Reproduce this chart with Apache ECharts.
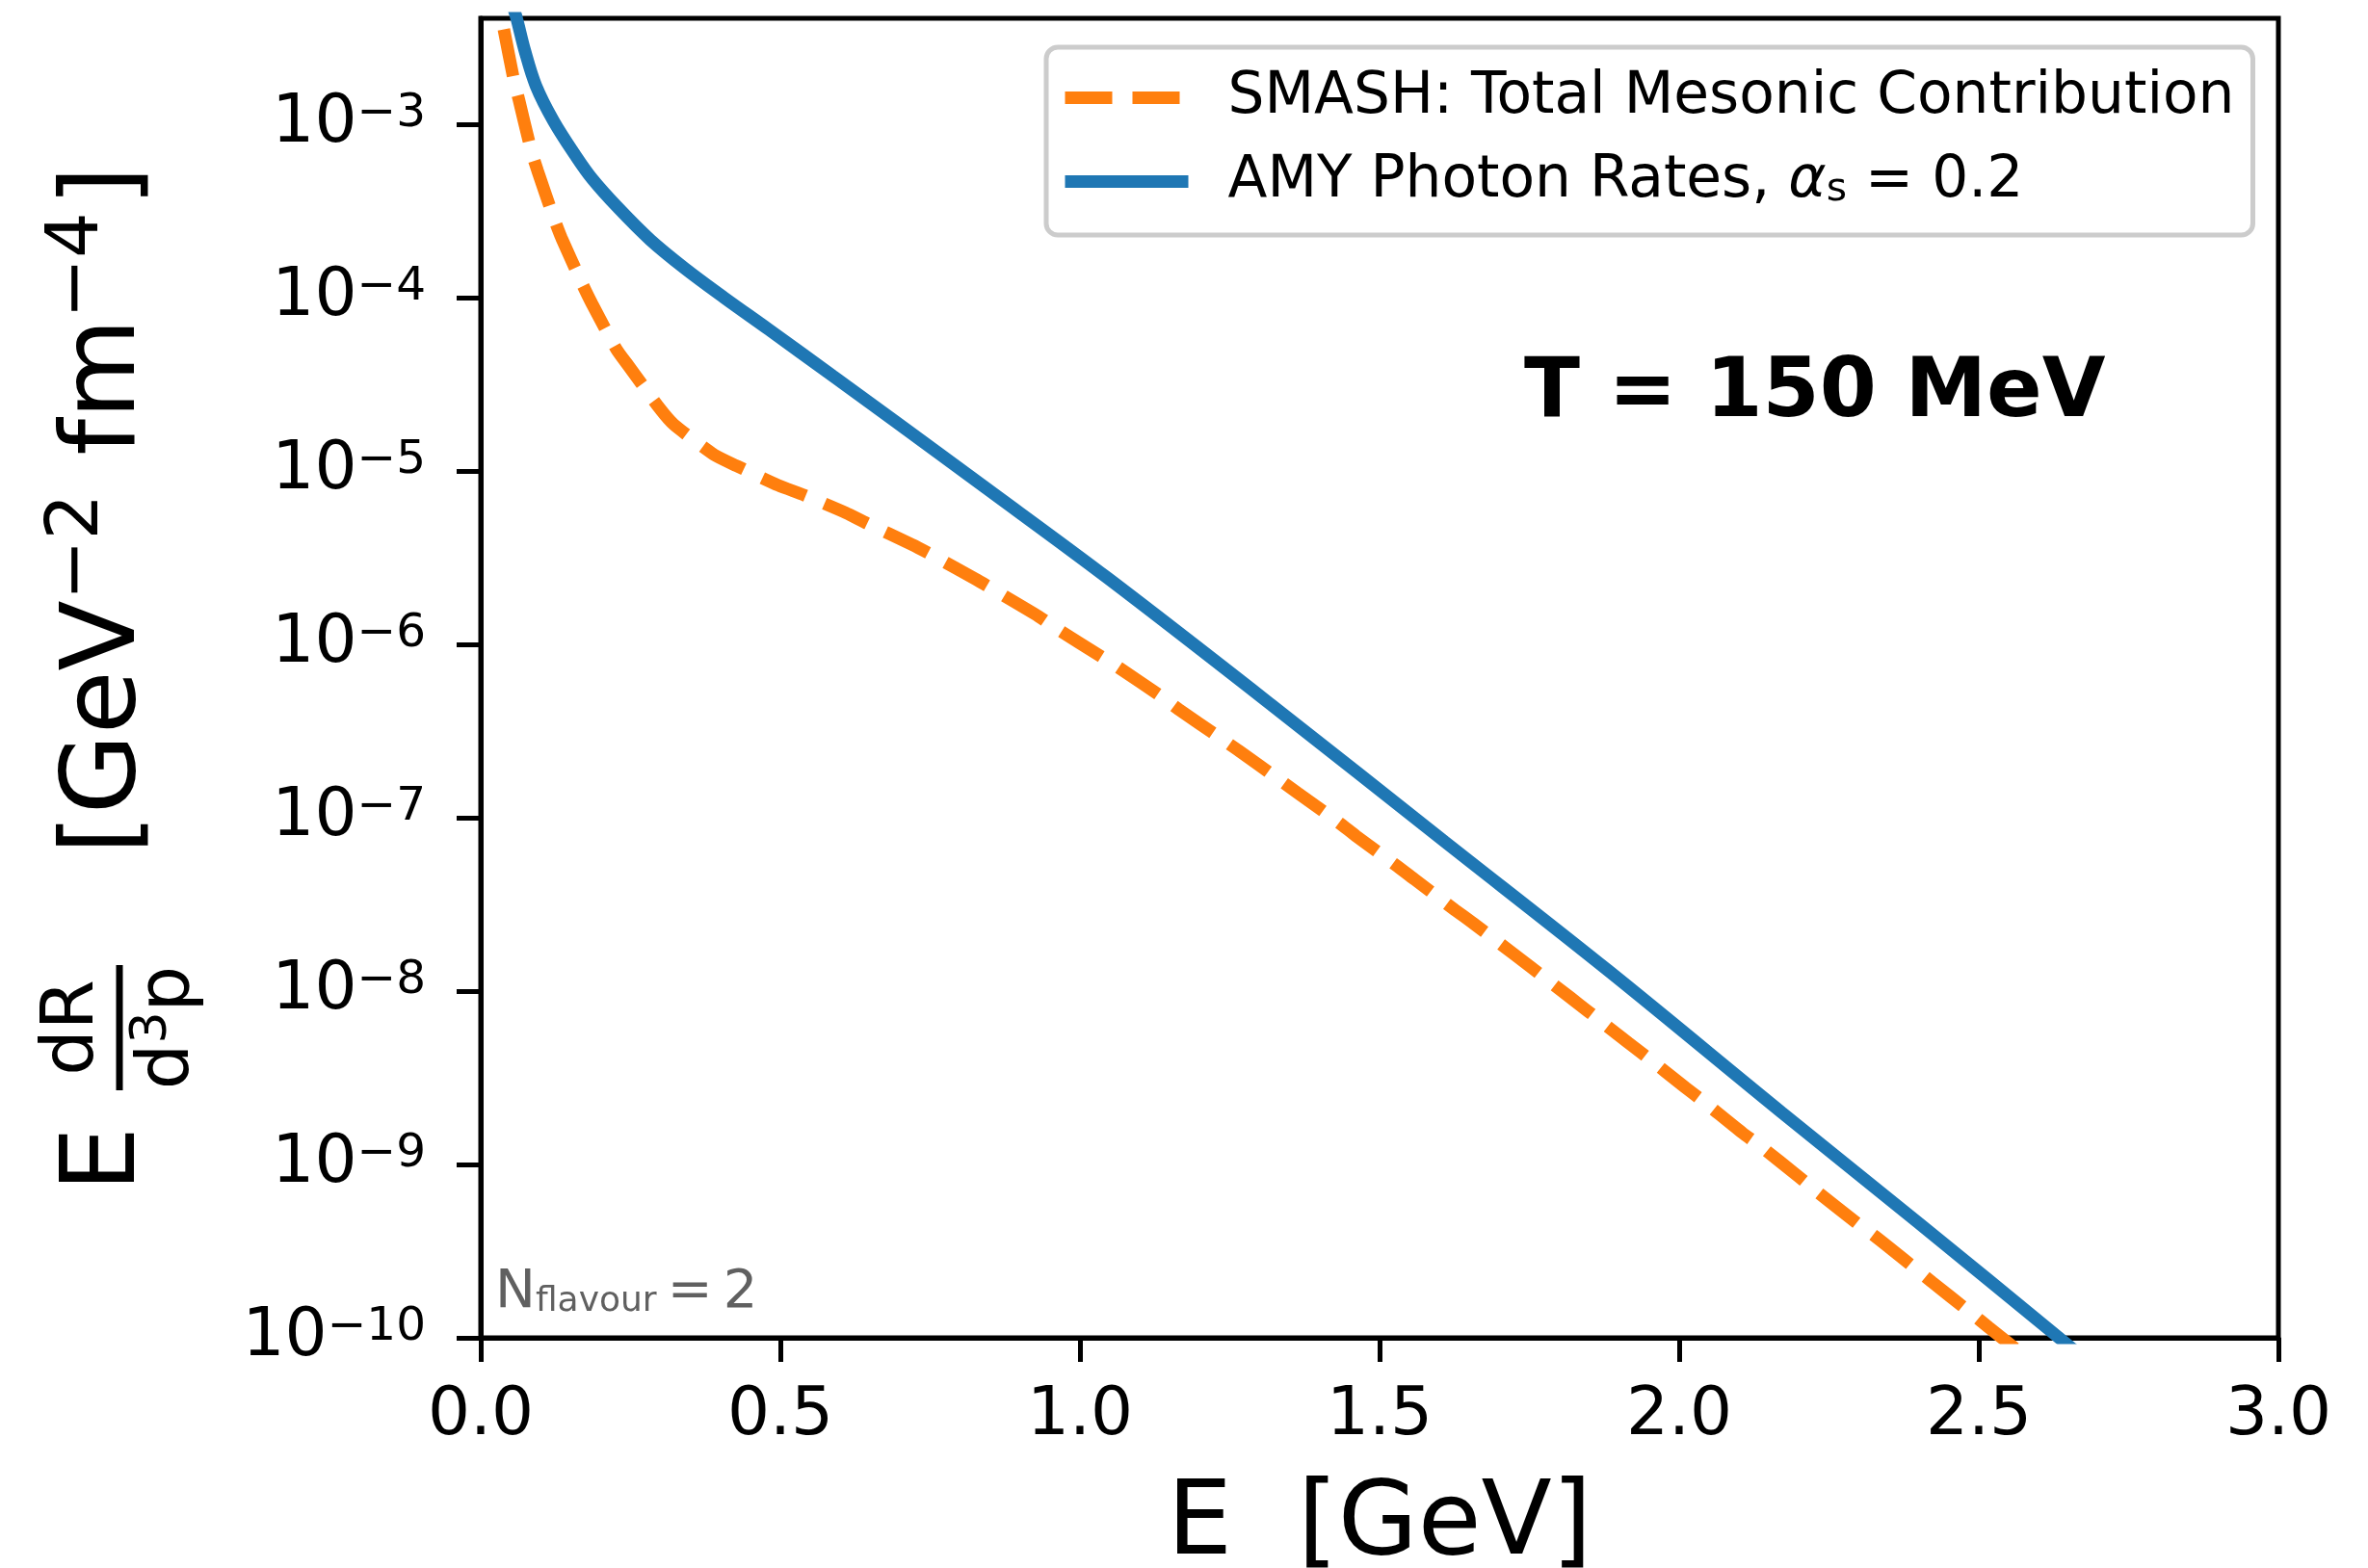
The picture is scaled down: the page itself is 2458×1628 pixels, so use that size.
<!DOCTYPE html>
<html><head><meta charset="utf-8">
<script src="https://cdn.jsdelivr.net/npm/echarts@6/dist/echarts.min.js"></script>
<style>html,body{margin:0;padding:0;background:#fff}#c{width:2458px;height:1628px}</style>
</head><body><div id="c"></div>
<script>
// ---- data ----
const energySMASH = [0.0386,0.0546,0.0638,0.084,0.0948,0.1216,0.135,0.1699,0.1859,0.2261,0.2475,0.2984,0.3225,0.3894,0.427,0.4966,0.5394,0.609,0.6444,0.7204,0.7541,0.8265,0.8586,0.9309,0.963,1.0337,1.0649,1.1345,1.165,1.2337,1.2647,1.3333,1.3632,1.4318,1.4612,1.5293,1.5587,1.6262,1.6556,1.7226,1.752,1.819,1.848,1.915,1.9444,2.0103,2.0397,2.1056,2.135,2.2015,2.23,2.2968,2.3264,2.3917,2.4217,2.487,2.5165,2.60];
const rateSMASH = [3.52e-3,1.85e-3,1.38e-3,7.11e-4,5.40e-4,2.90e-4,2.20e-4,1.19e-4,9.18e-5,5.06e-5,4.00e-5,2.30e-5,1.85e-5,1.24e-5,1.07e-5,8.26e-6,7.26e-6,5.74e-6,4.99e-6,3.75e-6,3.26e-6,2.37e-6,2.04e-6,1.45e-6,1.22e-6,8.57e-7,7.33e-7,5.04e-7,4.21e-7,2.89e-7,2.44e-7,1.65e-7,1.39e-7,9.38e-8,7.82e-8,5.26e-8,4.40e-8,2.93e-8,2.47e-8,1.65e-8,1.38e-8,9.14e-9,7.64e-9,5.04e-9,4.21e-9,2.78e-9,2.32e-9,1.52e-9,1.28e-9,8.39e-10,6.97e-10,4.58e-10,3.86e-10,2.55e-10,2.10e-10,1.39e-10,1.15e-10,6.76e-11];
const energyAMY = [0.050,0.0599,0.0734,0.0921,0.1216,0.159,0.186,0.229,0.283,0.341,0.406,0.481,0.588,0.695,0.834,1.046,1.319,1.609,1.882,2.171,2.40,2.632,2.70];
const rateAMY = [5.25e-3,4.08e-3,2.67e-3,1.667e-3,1.042e-3,6.53e-4,4.84e-4,3.30e-4,2.15e-4,1.469e-4,1.00e-4,6.53e-5,3.52e-5,1.897e-5,8.41e-6,2.415e-6,4.49e-7,7.26e-8,1.309e-8,1.995e-9,4.58e-10,1.014e-10,6.46e-11];
const seriesNames = ['SMASH: Total Mesonic Contribution', 'AMY Photon Rates, \u03b1s = 0.2'];
const xTickValues = [0, 0.5, 1.0, 1.5, 2.0, 2.5, 3.0];
const yTickValues = [1e-10, 1e-9, 1e-8, 1e-7, 1e-6, 1e-5, 1e-4, 1e-3];
const xRange = [0, 3];
const yRange = [1e-10, 4.08e-3];

// ---- helpers ----
const FF = '"DejaVu Sans"';
const mctx = document.createElement('canvas').getContext('2d');
function tw(t, size) { mctx.font = size + 'px ' + FF; return mctx.measureText(t).width; }
function rotText(text, baselineX, startY, size, align) {
  return {
    type: 'text', x: baselineX - 0.346 * size, y: startY, rotation: Math.PI / 2, z: 100,
    style: { text: text, fontSize: size, fontFamily: 'DejaVu Sans', fill: '#000',
      textAlign: align || 'left', textVerticalAlign: 'middle', align: align || 'left', verticalAlign: 'middle' }
  };
}

// y-axis label pieces (rotated, reading bottom-to-top)
const big = 107, mid = 75, small = 52;
const yl = [];
yl.push(rotText('E', 148, 1237.5, big));
yl.push(rotText('dR', 102, 1067, mid, 'center'));
const wd = tw('d', mid), w3 = tw('3', small), wp = tw('p', mid);
let s0 = 1067 + (wd + w3 + wp) / 2;
yl.push(rotText('d', 201, s0, mid));
yl.push(rotText('3', 176, s0 - wd, small));
yl.push(rotText('p', 201, s0 - wd - w3, mid));
yl.push({ type: 'rect', z: 100, shape: { x: 120.5, y: 1002, width: 7, height: 130 }, style: { fill: '#000' } });
let s1 = 887;
yl.push(rotText('[GeV', 148, s1, big)); s1 -= tw('[GeV', big);
yl.push(rotText('\u22122', 107, s1, mid)); s1 -= tw('\u22122', mid) + 6;
yl.push(rotText(' fm', 148, s1, big)); s1 -= tw(' fm', big);
yl.push(rotText('\u22124', 107, s1, mid)); s1 -= tw('\u22124', mid) + 6;
yl.push(rotText(']', 148, s1, big));

const LF = 59.8;
const chart = echarts.init(document.getElementById('c'), null, { renderer: 'canvas' });
chart.setOption({
  backgroundColor: '#fff',
  animation: false,
  textStyle: { fontFamily: 'DejaVu Sans' },
  grid: { left: 499, right: 93, top: 19, bottom: 239, containLabel: false, outerBoundsMode: 'none',
    show: true, borderColor: '#000', borderWidth: 5, backgroundColor: 'transparent' },
  xAxis: {
    type: 'value', min: xRange[0], max: xRange[1], interval: 0.5,
    name: 'E  [GeV]', nameLocation: 'middle', nameGap: 143,
    nameTextStyle: { fontSize: 107, color: '#000', fontFamily: 'DejaVu Sans' },
    axisLine: { show: true, lineStyle: { color: '#000', width: 5 } },
    axisTick: { show: true, length: 25, lineStyle: { color: '#000', width: 5 }, customValues: xTickValues },
    axisLabel: { fontSize: 69.3, color: '#000', margin: 47, fontFamily: 'DejaVu Sans',
      customValues: xTickValues, formatter: v => v.toFixed(1) },
    splitLine: { show: false }
  },
  yAxis: {
    type: 'log', logBase: 10, min: yRange[0], max: yRange[1],
    axisLine: { show: true, lineStyle: { color: '#000', width: 5 } },
    axisTick: { show: true, length: 25, lineStyle: { color: '#000', width: 5 }, customValues: yTickValues },
    axisLabel: {
      margin: 57, color: '#000', customValues: yTickValues,
      formatter: function (v) { const e = Math.round(Math.log10(v)); return '{b|10}{s|\u2212' + (-e) + '}'; },
      rich: {
        b: { fontSize: 69.3, lineHeight: 70, fontFamily: 'DejaVu Sans', color: '#000' },
        s: { fontSize: 48.5, lineHeight: 30, verticalAlign: 'top', fontFamily: 'DejaVu Sans', color: '#000' }
      }
    },
    splitLine: { show: false }
  },
  legend: {
    left: 1086, top: 49, orient: 'vertical',
    data: seriesNames,
    itemWidth: 128, itemHeight: 14, itemGap: 27,
    padding: [22, 19, 26, 13],
    backgroundColor: '#fff', borderColor: '#cccccc', borderWidth: 5, borderRadius: 12,
    selectedMode: false,
    itemStyle: { opacity: 0 },
    lineStyle: { width: 13, type: 'inherit', opacity: 1 },
    formatter: function (name) {
      if (name === seriesNames[1]) return '{a|AMY Photon Rates, }{al|\u03b1}{sub|s}{a| = 0.2}';
      return '{a|' + name + '}';
    },
    textStyle: {
      padding: [0, 0, 0, 36], color: '#000', fontSize: LF, lineHeight: 59, fontFamily: 'DejaVu Sans',
      rich: {
        a: { fontSize: LF, lineHeight: 59, fontFamily: 'DejaVu Sans', color: '#000', verticalAlign: 'bottom' },
        al: { fontSize: LF, lineHeight: 59, fontStyle: 'italic', fontFamily: 'DejaVu Sans', color: '#000', verticalAlign: 'bottom' },
        sub: { fontSize: 41, lineHeight: 27, fontFamily: 'DejaVu Sans', color: '#000', verticalAlign: 'bottom' }
      }
    }
  },
  series: [
    {
      name: seriesNames[0], type: 'line', symbol: 'none', smooth: 0.2, clip: true,
      data: energySMASH.map((e, i) => [e, rateSMASH[i]]),
      lineStyle: { color: '#ff7f0e', width: 13, type: [49, 21], cap: 'butt' },
      itemStyle: { color: '#ff7f0e' }, z: 3
    },
    {
      name: seriesNames[1], type: 'line', symbol: 'none', smooth: 0.35, clip: true,
      data: energyAMY.map((e, i) => [e, rateAMY[i]]),
      lineStyle: { color: '#1f77b4', width: 13, type: 'solid' },
      itemStyle: { color: '#1f77b4' }, z: 2
    }
  ],
  graphic: yl.concat([
    { type: 'text', x: 1582, y: 410, z: 100,
      style: { text: 'T = 150 MeV', fontSize: 85, fontWeight: 'bold', fontFamily: 'DejaVu Sans', fill: '#000',
        textAlign: 'left', textVerticalAlign: 'middle', align: 'left', verticalAlign: 'middle' } },
    { type: 'text', x: 514, y: 1342, z: 100,
      style: { text: '{n|N}{f|flavour}{n|\u2009=\u20092}', fontFamily: 'DejaVu Sans', fill: '#606060',
        textAlign: 'left', textVerticalAlign: 'middle', align: 'left', verticalAlign: 'middle',
        rich: {
          n: { fontSize: 56, lineHeight: 56, fontFamily: 'DejaVu Sans', fill: '#606060', verticalAlign: 'bottom' },
          f: { fontSize: 36, lineHeight: 29.4, fontFamily: 'DejaVu Sans', fill: '#606060', verticalAlign: 'bottom' }
        } } }
  ])
});
</script></body></html>
